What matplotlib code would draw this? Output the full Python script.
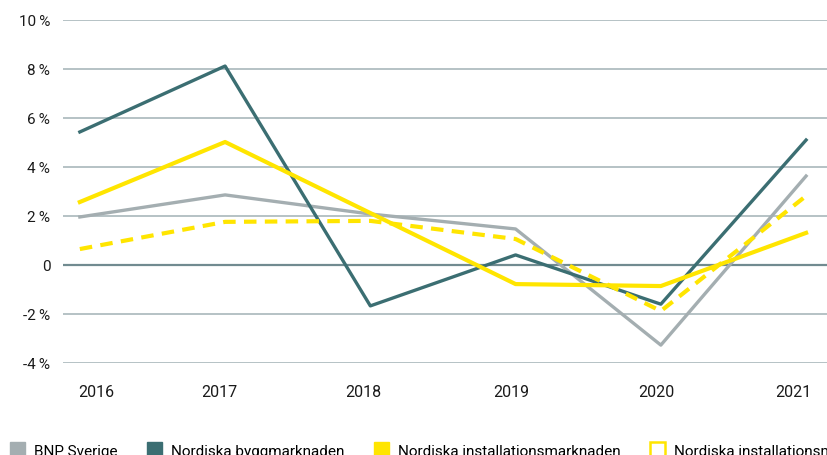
import numpy as np
import matplotlib.pyplot as plt
from matplotlib.patches import Patch

plt.rcParams['font.family'] = ['Roboto', 'DejaVu Sans']

years = ['2016', '2017', '2018', '2019', '2020', '2021']
bnp = [1.96, 2.86, 2.08, 1.47, -3.27, 3.63]
bygg = [5.43, 8.12, -1.67, 0.41, -1.60, 5.10]
install = [2.57, 5.02, 2.12, -0.78, -0.86, 1.31]
install_prog = [0.65, 1.76, 1.80, 1.06, -1.88, 2.82]

series_names = ['BNP Sverige', 'Nordiska byggmarknaden',
                'Nordiska installationsmarknaden', 'Nordiska installationsmarknaden, prognos']

yticks = [-4, -2, 0, 2, 4, 6, 8, 10]
ylabels = ['-4\u2009%', '-2\u2009%', '0', '2\u2009%', '4\u2009%', '6\u2009%', '8\u2009%', '10\u2009%']

grey = '#a4aeb1'
teal = '#3b6e72'
yellow = '#ffe500'

fig = plt.figure(figsize=(8.27, 4.56), dpi=100)
ax = fig.add_axes([0.076, 0.2018, 0.924, 0.7522])

x = np.arange(len(years))

# grid lines
for v in yticks:
    if v == 0:
        ax.axhline(v, color='#718b90', lw=1.6, zorder=1)
    else:
        ax.axhline(v, color='#a2b2b5', lw=1.1, zorder=1)

ax.plot(x, bnp, color=grey, lw=2.4, zorder=3, clip_on=False)
ax.plot(x, bygg, color=teal, lw=2.4, zorder=3, clip_on=False)
ax.plot(x, install, color=yellow, lw=3.0, zorder=4, clip_on=False)
ax.plot(x, install_prog, color=yellow, lw=3.0, dashes=(3, 2), zorder=4, clip_on=False)

ax.set_xlim(-0.117, 5.144)
ax.set_ylim(-4, 10)

for s in ax.spines.values():
    s.set_visible(False)

ax.set_yticks(yticks)
ax.set_yticklabels(ylabels)
# the year labels sit a little off the data points in the original
ax.set_xticks([0.11, 0.96, 1.95, 2.97, 3.97, 4.91])
ax.set_xticklabels(years)
ax.tick_params(axis='both', length=0, labelsize=11, colors='#1a1a1a')
ax.tick_params(axis='x', pad=15, labelsize=11.5)
ax.tick_params(axis='y', pad=9)

handles = [Patch(facecolor=grey, edgecolor=grey),
           Patch(facecolor=teal, edgecolor=teal),
           Patch(facecolor=yellow, edgecolor=yellow),
           Patch(facecolor='white', edgecolor=yellow, linewidth=1.8)]
fig.legend(handles, series_names, loc='lower left', bbox_to_anchor=(0.012, -0.006),
           ncol=4, frameon=False, fontsize=11, handlelength=1.0, handleheight=1.2,
           handletextpad=0.6, columnspacing=1.9, borderpad=0, borderaxespad=0)

fig.savefig('out.png', dpi=100)
